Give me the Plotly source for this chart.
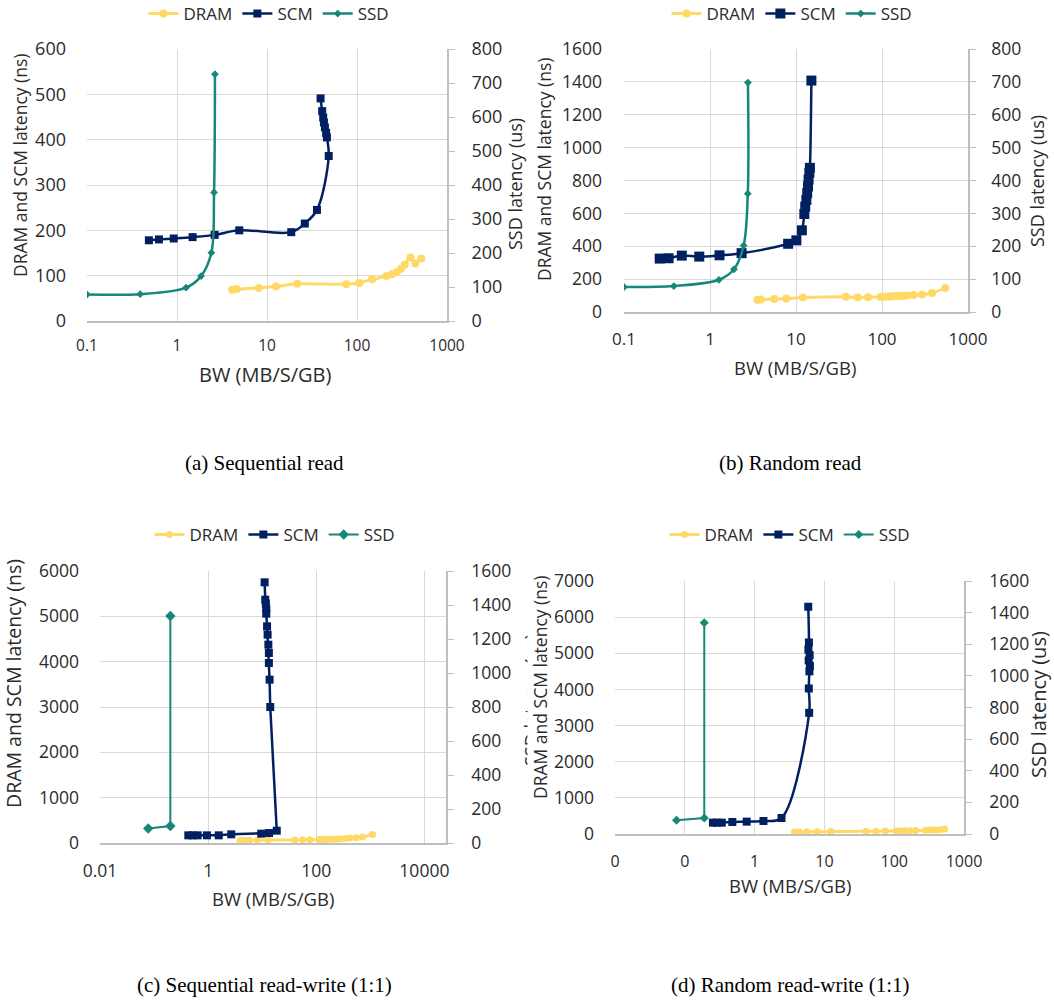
import plotly.graph_objects as go

W, H = 1054, 1001

# ---------------- data: bandwidth (MB/S/GB) vs latency ----------------
# (a) Sequential read
seq_read_dram_bw = [4.1, 4.6, 8.1, 12.6, 21.7, 76, 106, 147, 212, 245, 278, 308, 339, 392, 445, 518]
seq_read_dram_ns = [69, 70, 73, 76, 82, 81, 84, 92, 99, 103, 108, 115, 124, 140, 127, 138]
seq_read_scm_bw = [0.487, 0.63, 0.92, 1.49, 2.62, 4.92, 18.6, 26.3, 35.9, 48.5, 46.3, 45.4, 44.0, 42.9, 42.1, 41.0, 39.4]
seq_read_scm_ns = [178, 180, 182, 185, 190, 200, 196, 215, 245, 364, 405, 415, 427, 438, 449, 463, 491]
seq_read_ssd_bw = [0.1, 0.39, 1.26, 1.85, 2.41, 2.58, 2.64]
seq_read_ssd_us = [78, 79, 98, 132, 201, 378, 726]

# (b) Random read
rand_read_dram_bw = [3.55, 3.9, 5.6, 7.7, 12, 38, 52, 69, 97, 105, 115, 125, 137, 150, 165, 180, 196, 233, 292, 381, 545]
rand_read_dram_ns = [75, 76, 79, 82, 88, 93, 88, 90, 92, 93, 94, 95, 96, 97, 98, 99, 100, 103, 107, 115, 146]
rand_read_scm_bw = [0.26, 0.33, 0.47, 0.75, 1.29, 2.33, 8.1, 10.1, 11.7, 12.5, 12.8, 13.2, 13.5, 13.8, 14.0, 14.3, 14.5, 15.1]
rand_read_scm_ns = [325, 327, 343, 337, 345, 358, 415, 436, 497, 596, 641, 682, 723, 764, 806, 847, 877, 1408]
rand_read_ssd_bw = [0.1, 0.38, 1.27, 1.9, 2.46, 2.75, 2.76]
rand_read_ssd_us = [76, 79, 98, 130, 202, 360, 698]

# (c) Sequential read-write (1:1)
seq_rw_dram_bw = [3.9, 4.3, 4.7, 5.8, 8.2, 13, 40, 56, 76, 112, 125, 140, 160, 180, 205, 240, 280, 345, 427, 550, 718, 1100]
seq_rw_dram_ns = [55, 57, 58, 60, 62, 65, 68, 70, 72, 75, 77, 78, 80, 82, 84, 87, 90, 100, 110, 118, 133, 188]
seq_rw_scm_bw = [0.43, 0.52, 0.64, 0.95, 1.57, 2.68, 9.6, 13.4, 18.6, 14.1, 13.7, 13.3, 13.3, 13.0, 12.6, 12.3, 11.9, 11.9, 11.7, 11.4, 11.1]
seq_rw_scm_ns = [169, 169, 169, 169, 169, 191, 206, 220, 272, 3000, 3603, 3971, 4191, 4375, 4596, 4779, 5059, 5169, 5279, 5368, 5750]
seq_rw_ssd_bw = [0.078, 0.2, 0.2]
seq_rw_ssd_us = [85, 100, 1335]

# (d) Random read-write (1:1)
rand_rw_dram_bw = [3.73, 4.35, 5.6, 7.9, 12.4, 39.6, 55, 74.5, 106, 124, 146, 172, 203, 281, 331, 390, 459, 529]
rand_rw_dram_ns = [55, 57, 60, 63, 67, 75, 78, 80, 85, 87, 90, 93, 96, 103, 108, 113, 120, 135]
rand_rw_scm_bw = [0.253, 0.291, 0.339, 0.48, 0.77, 1.34, 2.43, 6.05, 5.98, 6.1, 6.2, 5.95, 6.15, 5.9, 6.0, 5.87]
rand_rw_scm_ns = [314, 314, 314, 332, 342, 360, 443, 3352, 4026, 4500, 4650, 4800, 4950, 5100, 5300, 6288]
rand_rw_ssd_bw = [0.076, 0.19, 0.19]
rand_rw_ssd_us = [87, 101, 1336]

# tick labels
ticks_ab = [0.1, 1, 10, 100, 1000]
ticklabels_ab = ["0.1", "1", "10", "100", "1000"]
ticks_c = [0.01, 1, 100, 10000]
ticklabels_c = ["0.01", "1", "100", "10000"]
ticks_d = [0.01, 0.1, 1, 10, 100, 1000]
ticklabels_d = ["0", "0", "1", "10", "100", "1000"]

captions = ["(a) Sequential read", "(b) Random read",
            "(c) Sequential read-write (1:1)", "(d) Random read-write (1:1)"]

# ---------------- styling ----------------
FONT = "Open Sans"
SERIF = "Liberation Serif"
TXT = "#2b2b2b"
GRID = "#D9D9D9"
AXL = "#BFBFBF"
C_DRAM = "#FFD966"
C_SCM = "#002060"
C_SSD = "#17877A"


def px(x):
    return x / W


def py(y):
    return 1 - y / H


panels = [
    dict(data=(seq_read_dram_bw, seq_read_dram_ns, seq_read_scm_bw, seq_read_scm_ns, seq_read_ssd_bw, seq_read_ssd_us),
         box=(87, 447, 49, 321), xr=[-1, 3], tv=ticks_ab, tt=ticklabels_ab, yl=(600, 100), yr=(800, 100),
         shape=("spline", "spline", "spline"), xtick=15.5, ytick=18, xstand=10, ystand=20, rstand=13,
         msz=(8, 8, 6), lw=(3, 2.5, 2.5),
         legend=(269, 14), xtitle=(265, 374, 20), ltitle=(20, 165, 17.5), rtitle=(515, 184, 18)),
    dict(data=(rand_read_dram_bw, rand_read_dram_ns, rand_read_scm_bw, rand_read_scm_ns, rand_read_ssd_bw, rand_read_ssd_us),
         box=(624, 968, 49, 312), xr=[-1, 3], tv=ticks_ab, tt=ticklabels_ab, yl=(1600, 200), yr=(800, 100),
         shape=("spline", "spline", "spline"), xtick=17, ytick=17.5, xstand=11, ystand=21, rstand=12,
         msz=(8, 10, 6), lw=(3, 2.5, 2.5),
         legend=(792, 14), xtitle=(795, 367, 18.5), ltitle=(544, 169, 17.5), rtitle=(1037, 181, 18)),
    dict(data=(seq_rw_dram_bw, seq_rw_dram_ns, seq_rw_scm_bw, seq_rw_scm_ns, seq_rw_ssd_bw, seq_rw_ssd_us),
         box=(100, 446, 571, 843), xr=[-2, 4.4], tv=ticks_c, tt=ticklabels_c, yl=(6000, 1000), yr=(1600, 200),
         shape=("linear", "linear", "linear"), xtick=17.5, ytick=17.5, xstand=11, ystand=20, rstand=14,
         msz=(7, 8, 8), lw=(3, 2.5, 2),
         legend=(275, 535), xtitle=(273, 898, 18.5), ltitle=(13, 684, 19.5), rtitle=(531, 700, 18)),
    dict(data=(rand_rw_dram_bw, rand_rw_dram_ns, rand_rw_scm_bw, rand_rw_scm_ns, rand_rw_ssd_bw, rand_rw_ssd_us),
         box=(615, 964, 581, 834), xr=[-2, 3], tv=ticks_d, tt=ticklabels_d, yl=(7000, 1000), yr=(1600, 200),
         shape=("spline", "spline", "linear"), xtick=16, ytick=17.5, xstand=12, ystand=20, rstand=14,
         msz=(7, 8, 7), lw=(3, 2.5, 2),
         legend=(790, 535), xtitle=(790, 885, 18.5), ltitle=(540, 687, 17.5), rtitle=(1038, 705, 20)),
]

caption_pos = [(264, 463), (790, 463), (264, 985), (790, 985)]

fig = go.Figure()
layout = dict(width=W, height=H, margin=dict(l=0, r=0, t=0, b=0, autoexpand=False),
              paper_bgcolor="white", plot_bgcolor="white", showlegend=True)
annotations = []

for i, p in enumerate(panels):
    n = i + 1
    xname = "x" if n == 1 else f"x{n}"
    yl_name = "y" if n == 1 else f"y{2 * n - 1}"
    yr_name = f"y{2 * n}"
    leg = "legend" if n == 1 else f"legend{n}"
    x0, x1, y0, y1 = p["box"]
    dram_bw, dram_ns, scm_bw, scm_ns, ssd_bw, ssd_us = p["data"]
    ms_d, ms_s, ms_ssd = p["msz"]
    lw_d, lw_s, lw_ssd = p["lw"]
    sh_d, sh_s, sh_ssd = p["shape"]

    fig.add_trace(go.Scatter(x=dram_bw, y=dram_ns, name="DRAM", mode="lines+markers",
                             line=dict(color=C_DRAM, width=lw_d, shape=sh_d),
                             marker=dict(symbol="circle", size=ms_d, color=C_DRAM),
                             xaxis=xname, yaxis=yl_name, legend=leg))
    fig.add_trace(go.Scatter(x=scm_bw, y=scm_ns, name="SCM", mode="lines+markers",
                             line=dict(color=C_SCM, width=lw_s, shape=sh_s),
                             marker=dict(symbol="square", size=ms_s, color=C_SCM),
                             xaxis=xname, yaxis=yl_name, legend=leg))
    fig.add_trace(go.Scatter(x=ssd_bw, y=ssd_us, name="SSD", mode="lines+markers",
                             line=dict(color=C_SSD, width=lw_ssd, shape=sh_ssd),
                             marker=dict(symbol="diamond", size=ms_ssd, color=C_SSD),
                             xaxis=xname, yaxis=yr_name, legend=leg))

    xkey = "xaxis" if n == 1 else f"xaxis{n}"
    ylkey = "yaxis" if n == 1 else f"yaxis{2 * n - 1}"
    yrkey = f"yaxis{2 * n}"

    layout[xkey] = dict(type="log", range=p["xr"], domain=[px(x0), px(x1)], anchor=yl_name,
                        tickmode="array", tickvals=p["tv"], ticktext=p["tt"],
                        showgrid=True, gridcolor=GRID, gridwidth=1.3,
                        showline=True, linecolor=AXL, linewidth=1.6, ticks="",
                        zeroline=False, ticklabelstandoff=p["xstand"], automargin=False,
                        tickfont=dict(family=FONT, size=p["xtick"], color=TXT))
    layout[ylkey] = dict(range=[0, p["yl"][0]], dtick=p["yl"][1], tick0=0,
                         domain=[py(y1), py(y0)], anchor=xname,
                         showgrid=True, gridcolor=GRID, gridwidth=1.3,
                         showline=False, ticks="", zeroline=False, automargin=False,
                         ticklabelstandoff=p["ystand"],
                         tickfont=dict(family=FONT, size=p["ytick"], color=TXT))
    layout[yrkey] = dict(range=[0, p["yr"][0]], dtick=p["yr"][1], tick0=0,
                         overlaying=yl_name, side="right", anchor=xname,
                         showgrid=False, showline=True, linecolor=AXL, linewidth=1.6,
                         ticks="outside", ticklen=6, tickcolor=AXL, tickwidth=1.3,
                         zeroline=False, ticklabelstandoff=p["rstand"], automargin=False,
                         tickfont=dict(family=FONT, size=p["ytick"], color=TXT))

    lx, ly = p["legend"]
    layout[leg] = dict(x=px(lx), y=py(ly), xanchor="center", yanchor="middle",
                       orientation="h", bgcolor="rgba(0,0,0,0)", itemwidth=30,
                       font=dict(family=FONT, size=17, color=TXT))

    tx, ty, ts = p["xtitle"]
    annotations.append(dict(text="BW (MB/S/GB)", x=px(tx), y=py(ty), xref="paper", yref="paper",
                            showarrow=False, xanchor="center", yanchor="middle",
                            font=dict(family=FONT, size=ts, color=TXT)))
    tx, ty, ts = p["ltitle"]
    annotations.append(dict(text="DRAM and SCM latency (ns)", x=px(tx), y=py(ty), xref="paper", yref="paper",
                            showarrow=False, xanchor="center", yanchor="middle", textangle=-90,
                            font=dict(family=FONT, size=ts, color=TXT)))
    tx, ty, ts = p["rtitle"]
    annotations.append(dict(text="SSD latency (us)", x=px(tx), y=py(ty), xref="paper", yref="paper",
                            showarrow=False, xanchor="center", yanchor="middle", textangle=-90,
                            font=dict(family=FONT, size=ts, color=TXT)))
    if n == 3:
        # the right-hand panel sits over this axis title and hides most of it
        annotations.append(dict(text=" ", x=px(527), y=py(700), xref="paper", yref="paper",
                                showarrow=False, xanchor="left", yanchor="middle",
                                width=20, height=300, bgcolor="white", borderpad=0,
                                font=dict(size=10)))

for cap, (cx, cy) in zip(captions, caption_pos):
    annotations.append(dict(text=cap, x=px(cx), y=py(cy), xref="paper", yref="paper",
                            showarrow=False, xanchor="center", yanchor="middle",
                            font=dict(family=SERIF, size=21, color="black")))

# keep the (d) left title above the mask drawn for (c)
d_left = [a for a in annotations if a["text"] == "DRAM and SCM latency (ns)"][-1]
annotations.remove(d_left)
annotations.append(d_left)

layout["annotations"] = annotations
fig.update_layout(**layout)
fig.write_html("out.html")
